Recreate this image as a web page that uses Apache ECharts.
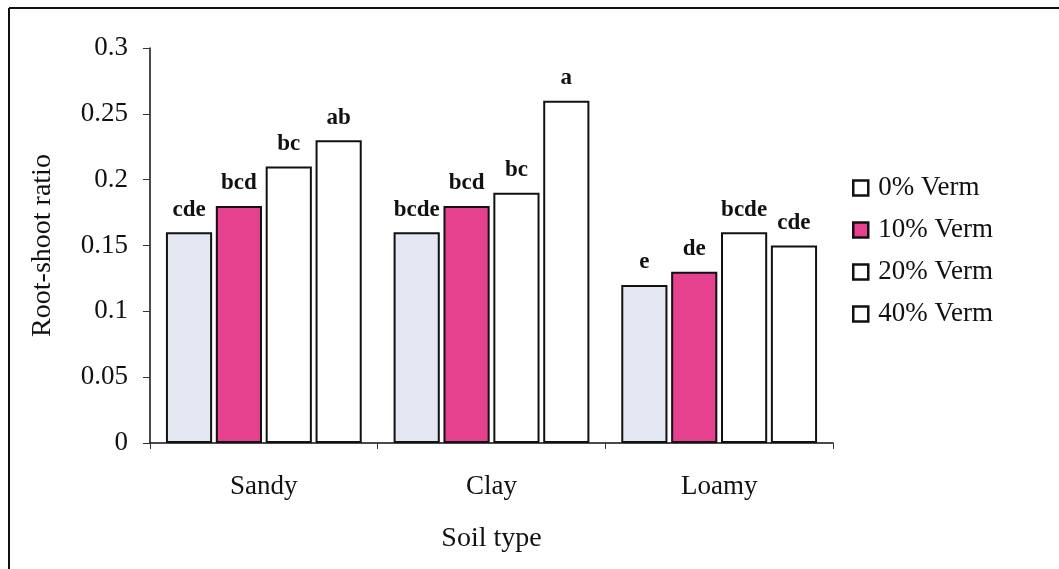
<!DOCTYPE html>
<html>
<head>
<meta charset="utf-8">
<script src="https://cdn.jsdelivr.net/npm/echarts@6/dist/echarts.min.js"></script>
<style>
  html, body { margin: 0; padding: 0; background: #fff; }
  #rootShootChart { width: 1059px; height: 569px; }
</style>
</head>
<body>
<div id="rootShootChart"></div>
<script>
  // soil types and vermicompost levels
  var soilTypes = ['Sandy', 'Clay', 'Loamy']
  var seriesNames = ['0% Verm', '10% Verm', '20% Verm', '40% Verm']

  // root-shoot ratio per level (Sandy, Clay, Loamy)
  var verm0 = [0.16, 0.16, 0.12]
  var verm10 = [0.18, 0.18, 0.13]
  var verm20 = [0.21, 0.19, 0.16]
  var verm40 = [0.23, 0.26, 0.15]

  // significance letters
  var letters0 = ['cde', 'bcde', 'e']
  var letters10 = ['bcd', 'bcd', 'de']
  var letters20 = ['bc', 'bc', 'bcde']
  var letters40 = ['ab', 'a', 'cde']

  var yTicks = [0, 0.05, 0.1, 0.15, 0.2, 0.25, 0.3]

  var fills = ['#e3e7f1', '#e5418e', '#ffffff', '#ffffff']
  var legendFills = ['#ffffff', '#e5418e', '#ffffff', '#ffffff']
  var font = '"Liberation Serif", "Times New Roman", serif'

  var values = [verm0, verm10, verm20, verm40]
  var letters = [letters0, letters10, letters20, letters40]

  var series = []
  for (let i = 0; i < seriesNames.length; i++) {
    series.push({
      name: seriesNames[i],
      type: 'bar',
      data: values[i],
      barGap: '8%',
      barCategoryGap: '14%',
      itemStyle: {
        color: fills[i],
        borderColor: '#111',
        borderWidth: 2
      },
      label: {
        show: true,
        position: 'top',
        distance: 11,
        fontFamily: font,
        fontSize: 23,
        fontWeight: 'bold',
        color: '#111',
        formatter: (p) => letters[i][p.dataIndex]
      }
    })
  }

  var option = {
    animation: false,
    backgroundColor: '#fff',
    grid: {
      left: 150,
      right: 226,
      top: 48,
      bottom: 126
    },
    legend: {
      orient: 'vertical',
      left: 847,
      top: 169,
      itemWidth: 15,
      itemHeight: 15,
      itemGap: 14,
      icon: 'rect',
      textStyle: { fontFamily: font, fontSize: 27, lineHeight: 28, color: '#111', padding: [0, 0, 0, 5] },
      data: seriesNames.map((n, i) => ({
        name: n,
        itemStyle: { color: legendFills[i], borderColor: '#111', borderWidth: 2.5 }
      }))
    },
    xAxis: {
      type: 'category',
      data: soilTypes,
      name: 'Soil type',
      nameLocation: 'middle',
      nameGap: 82,
      nameTextStyle: { fontFamily: font, fontSize: 28, color: '#111' },
      axisLine: { lineStyle: { color: '#111', width: 1.5 } },
      axisTick: { show: true, length: 6, lineStyle: { color: '#333' } },
      axisLabel: { fontFamily: font, fontSize: 27, color: '#111', margin: 30 }
    },
    yAxis: {
      type: 'value',
      min: 0,
      max: 0.3,
      interval: 0.05,
      name: 'Root-shoot ratio',
      nameLocation: 'middle',
      nameGap: 93,
      nameTextStyle: { fontFamily: font, fontSize: 28, color: '#111' },
      splitLine: { show: false },
      axisLine: { show: true, lineStyle: { color: '#111', width: 1.5 } },
      axisTick: { show: true, length: 7, lineStyle: { color: '#333' } },
      axisLabel: {
        fontFamily: font,
        fontSize: 27,
        color: '#111',
        margin: 22,
        formatter: (v) => {
          for (let t of yTicks) {
            if (Math.abs(t - v) < 1e-9) return String(t)
          }
          return ''
        }
      }
    },
    graphic: [
      { type: 'line', shape: { x1: 9, y1: 8, x2: 1059, y2: 8 }, style: { stroke: '#111', lineWidth: 2 } },
      { type: 'line', shape: { x1: 9, y1: 8, x2: 9, y2: 569 }, style: { stroke: '#111', lineWidth: 2 } }
    ],
    series: series
  }

  var chart = echarts.init(document.getElementById('rootShootChart'))
  chart.setOption(option)
  window.onresize = () => {
    chart.resize()
  }
</script>
</body>
</html>
